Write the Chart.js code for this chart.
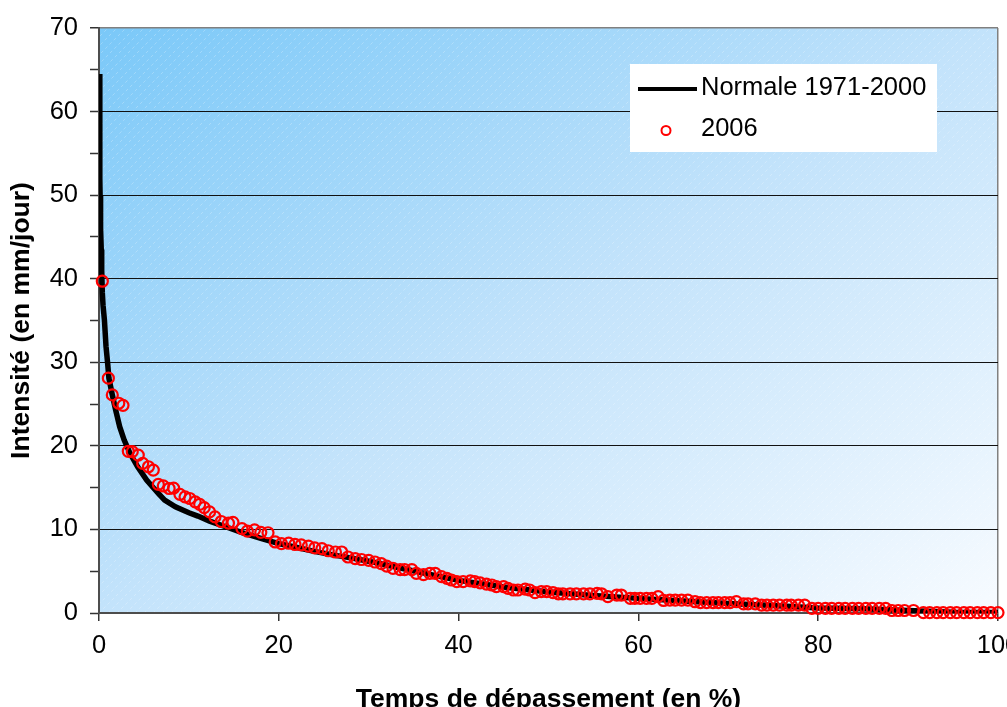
<!DOCTYPE html>
<html>
<head>
<meta charset="utf-8">
<script src="https://cdn.jsdelivr.net/npm/chart.js@4.4.1/dist/chart.umd.min.js"></script>
<style>
    html, body { margin: 0; padding: 0; overflow: hidden; background: #fff; }
    #wrap { position: absolute; left: 0; top: 0; width: 1030px; height: 740px; }
</style>
</head>
<body>
<div id="wrap"><canvas id="chart"></canvas></div>
<script>
const seriesLabels = ["Normale 1971-2000", "2006"];

// courbe normale : temps de dépassement (%) / intensité (mm/jour)
const normaleX = [0.05, 0.08, 0.1, 0.12, 0.15, 0.2, 0.25, 0.3, 0.37, 0.45,
    0.6, 0.78, 0.96, 1.1, 1.48, 1.85, 2.3, 2.8, 3.45, 4.3,
    5.3, 6.6, 7.3, 8.5, 10, 11, 12.3, 14.4, 16, 18.1,
    20, 21.8, 23.8, 26.3, 28, 30, 33, 36, 40, 45,
    50, 55, 60, 65, 70, 75, 80, 85, 90, 95, 100];
const normaleY = [64.5, 58, 52, 50, 48.5, 46, 43.5, 41, 38.3, 36.8,
    35.1, 31.9, 29.9, 28.1, 26.1, 24.3, 22.3, 20.7, 19.1, 17.5,
    15.9, 14.3, 13.5, 12.7, 12.0, 11.6, 11.0, 10.2, 9.6, 8.9,
    8.3, 7.9, 7.4, 6.9, 6.6, 6.2, 5.5, 4.8, 3.9, 3.1,
    2.5, 2.1, 1.75, 1.45, 1.15, 0.9, 0.6, 0.5, 0.3, 0.1, 0.05];

// année 2006
const x2006 = [0.37, 1.04, 1.48, 2.2, 2.67, 3.26, 3.7, 4.37, 4.86, 5.5,
    6.04, 6.6, 7.15, 7.8, 8.3, 9.0, 9.57, 10.1, 10.7, 11.2,
    11.7, 12.3, 12.9, 13.6, 14.4, 14.9, 15.9, 16.5, 17.3, 18.0,
    18.8, 19.6, 20.3, 21.1, 21.8, 22.5, 23.3, 24.0, 24.8, 25.5,
    26.3, 27.0, 27.7, 28.5, 29.2, 30.0, 30.7, 31.4, 32.0, 32.7,
    33.5, 34.0, 34.8, 35.3, 36.1, 36.8, 37.4, 38.1, 38.7, 39.2,
    39.8, 40.5, 41.3, 41.8, 42.4, 43.1, 43.7, 44.2, 45.0, 45.5,
    46.1, 46.6, 47.4, 47.9, 48.5, 49.2, 49.8, 50.5, 51.1, 51.6,
    52.4, 53.1, 53.9, 54.6, 55.4, 55.9, 56.6, 57.6, 58.1, 59.1,
    59.6, 60.2, 60.9, 61.5, 62.2, 62.8, 63.5, 64.1, 64.8, 65.5,
    66.3, 66.9, 67.6, 68.3, 68.9, 69.6, 70.2, 70.9, 71.7, 72.2,
    73.0, 73.7, 74.3, 75.0, 75.7, 76.5, 77.0, 77.8, 78.5, 79.3,
    80.0, 80.8, 81.5, 82.3, 83.0, 83.8, 84.5, 85.3, 86.0, 86.8,
    87.5, 88.2, 88.9, 89.6, 90.6, 91.7, 92.4, 93.2, 93.9, 94.7,
    95.4, 96.2, 96.9, 97.7, 98.4, 99.2, 100];
const y2006 = [39.7, 28.1, 26.1, 25.1, 24.85, 19.35, 19.3, 18.9, 17.9, 17.5,
    17.1, 15.4, 15.2, 14.9, 14.95, 14.2, 13.9, 13.7, 13.3, 13.0,
    12.6, 12.1, 11.5, 10.95, 10.75, 10.85, 10.1, 9.8, 9.95, 9.65,
    9.6, 8.5, 8.3, 8.35, 8.2, 8.15, 8.0, 7.8, 7.7, 7.45,
    7.3, 7.3, 6.7, 6.5, 6.4, 6.3, 6.1, 5.9, 5.6, 5.35,
    5.2, 5.2, 5.2, 4.75, 4.6, 4.75, 4.75, 4.35, 4.15, 3.95,
    3.75, 3.75, 3.85, 3.75, 3.6, 3.45, 3.35, 3.15, 3.15, 2.95,
    2.75, 2.75, 2.85, 2.75, 2.45, 2.55, 2.55, 2.45, 2.3, 2.3,
    2.3, 2.3, 2.3, 2.3, 2.35, 2.3, 1.95, 2.15, 2.15, 1.75,
    1.75, 1.75, 1.75, 1.75, 1.95, 1.5, 1.55, 1.55, 1.55, 1.55,
    1.35, 1.25, 1.25, 1.25, 1.25, 1.25, 1.25, 1.35, 1.1, 1.1,
    1.1, 0.95, 0.95, 0.95, 0.95, 0.95, 0.95, 0.95, 0.95, 0.55,
    0.55, 0.55, 0.55, 0.55, 0.55, 0.55, 0.55, 0.55, 0.55, 0.55,
    0.55, 0.3, 0.3, 0.3, 0.3, 0.05, 0.05, 0.05, 0.05, 0.05,
    0.05, 0.05, 0.05, 0.05, 0.05, 0.05, 0.05];

const xTitle = "Temps de dépassement (en %)";
const yTitle = "Intensité (en mm/jour)";

const FONT = '"Liberation Sans", Arial, sans-serif';

function toPoints(xs, ys) {
    return xs.map(function (x, i) { return { x: x, y: ys[i] }; });
}

// fond dégradé + hachures claires de la zone de tracé
const plotBackground = {
    id: "plotBackground",
    beforeDraw(chart) {
        const ctx = chart.ctx;
        const a = chart.chartArea;
        ctx.save();
        ctx.fillStyle = "#fff";
        ctx.fillRect(0, 0, chart.width, chart.height);
        ctx.translate(a.left, a.top);
        ctx.scale(a.right - a.left, a.bottom - a.top);
        const g = ctx.createLinearGradient(0, 0, 1, 1);
        g.addColorStop(0, "#7ac8f8");
        g.addColorStop(0.5, "#c3e3fb");
        g.addColorStop(1, "#f7fbff");
        ctx.fillStyle = g;
        ctx.fillRect(0, 0, 1, 1);
        ctx.restore();

        ctx.save();
        ctx.beginPath();
        ctx.rect(a.left, a.top, a.right - a.left, a.bottom - a.top);
        ctx.clip();
        ctx.strokeStyle = "rgba(255,255,255,0.25)";
        ctx.lineWidth = 1;
        ctx.setLineDash([3, 3]);
        const h = a.bottom - a.top;
        for (let s = -h; s < a.right - a.left; s += 9) {
            ctx.beginPath();
            ctx.moveTo(a.left + s, a.bottom);
            ctx.lineTo(a.left + s + h, a.top);
            ctx.stroke();
        }
        ctx.restore();
    }
};

// légende encadrée en haut à droite
const boxLegend = {
    id: "boxLegend",
    afterDraw(chart) {
        const ctx = chart.ctx;
        const a = chart.chartArea;
        const ds = chart.data.datasets;
        const left = a.right - 368;
        const top = a.top + 36;
        ctx.save();
        ctx.fillStyle = "#fff";
        ctx.fillRect(left, top, 307, 88);
        ctx.font = "25.5px " + FONT;
        ctx.fillStyle = "#000";
        ctx.textBaseline = "alphabetic";

        ctx.strokeStyle = ds[0].borderColor;
        ctx.lineWidth = 4;
        ctx.beginPath();
        ctx.moveTo(left + 8, top + 25);
        ctx.lineTo(left + 67, top + 25);
        ctx.stroke();
        ctx.fillText(ds[0].label, left + 71, top + 31);

        ctx.strokeStyle = ds[1].borderColor;
        ctx.lineWidth = 2;
        ctx.beginPath();
        ctx.arc(left + 36, top + 66.5, 4.5, 0, Math.PI * 2);
        ctx.stroke();
        ctx.fillText(ds[1].label, left + 71, top + 72);
        ctx.restore();
    }
};

let ctx = document.getElementById("chart").getContext("2d");
let chart = new Chart(ctx, {
    type: "scatter",
    data: {
        datasets: [{
            label: seriesLabels[0],
            data: toPoints(normaleX, normaleY),
            showLine: true,
            borderColor: "#000",
            borderWidth: 5.5,
            pointRadius: 0,
            tension: 0,
            order: 1
        }, {
            label: seriesLabels[1],
            data: toPoints(x2006, y2006),
            showLine: false,
            borderColor: "#ff0000",
            backgroundColor: "rgba(0,0,0,0)",
            borderWidth: 2.2,
            pointRadius: 5.5,
            clip: false,
            order: 0
        }]
    },
    options: {
        responsive: true,
        maintainAspectRatio: false,
        animation: false,
        layout: { padding: { left: 0, top: 28, right: 32, bottom: 24 } },
        plugins: {
            legend: { display: false },
            tooltip: { enabled: false }
        },
        scales: {
            x: {
                type: "linear",
                min: 0,
                max: 100,
                afterFit: function (scale) { scale.height = 103; },
                ticks: {
                    stepSize: 20,
                    color: "#000",
                    font: { family: FONT, size: 25.5 },
                    padding: 10,
                    maxRotation: 0
                },
                grid: {
                    color: function (c) { return c.tick && c.tick.value === 100 ? "#808080" : "rgba(0,0,0,0)"; },
                    tickColor: "#333",
                    tickLength: 8,
                    tickWidth: 1.5,
                    lineWidth: 1.5
                },
                border: { color: "#4d4d4d", width: 2 },
                title: {
                    display: true,
                    text: xTitle,
                    color: "#000",
                    font: { family: FONT, size: 26.5, weight: "bold" },
                    padding: 0
                }
            },
            y: {
                type: "linear",
                min: 0,
                max: 70,
                afterFit: function (scale) { scale.width = 99; },
                ticks: {
                    stepSize: 5,
                    color: "#000",
                    font: { family: FONT, size: 25.5 },
                    padding: 12,
                    callback: function (v) { return v % 10 === 0 ? v : ""; }
                },
                grid: {
                    color: function (c) {
                        if (!c.tick) return "rgba(0,0,0,0)";
                        if (c.tick.value === 70) return "#808080";
                        if (c.tick.value === 0 || c.tick.value % 10 !== 0) return "rgba(0,0,0,0)";
                        return "#111";
                    },
                    lineWidth: function (c) { return c.tick && c.tick.value === 70 ? 1.5 : 1; },
                    tickColor: "#333",
                    tickLength: 9,
                    tickWidth: 1.5
                },
                border: { color: "#4d4d4d", width: 2 },
                title: {
                    display: true,
                    text: yTitle,
                    color: "#000",
                    font: { family: FONT, size: 26.5, weight: "bold" },
                    padding: { top: 6, bottom: 0 }
                }
            }
        }
    },
    plugins: [plotBackground, boxLegend]
});
</script>
</body>
</html>
